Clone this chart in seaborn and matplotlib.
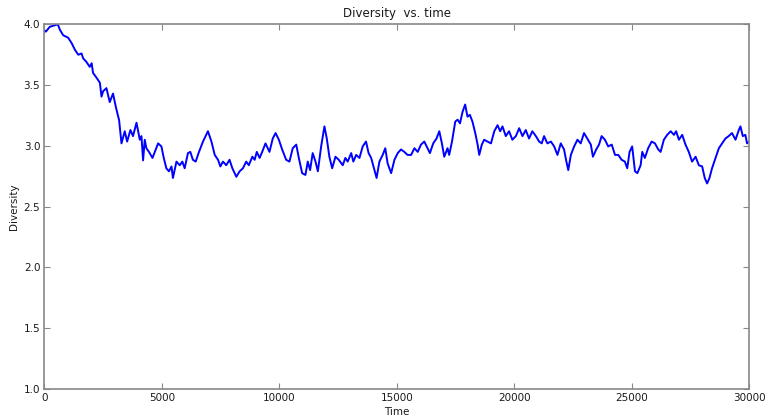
import matplotlib
matplotlib.use("Agg")
import matplotlib.pyplot as plt
import seaborn as sns

# values
time = [0, 60, 230, 570, 660, 800, 1010, 1160, 1300, 1440, 1580, 1650, 1790, 1930,
        2010, 2070, 2220, 2360, 2430, 2500, 2640, 2780, 2920, 3040, 3180, 3280,
        3420, 3520, 3660, 3770, 3920, 4060, 4130, 4200, 4270, 4340, 4450, 4600,
        4740, 4840, 4980, 5080, 5190, 5300, 5410, 5470, 5620, 5760, 5870, 5970,
        6110, 6210, 6320, 6440, 6580, 6750, 6960, 7110, 7250, 7390, 7490, 7600,
        7740, 7880, 8000, 8170, 8310, 8450, 8590, 8700, 8850, 8950, 9040, 9160,
        9270, 9410, 9580, 9720, 9840, 9980, 10120, 10290, 10430, 10570, 10720,
        10830, 10970, 11110, 11210, 11310, 11420, 11540, 11640, 11780, 11920,
        12020, 12130, 12250, 12390, 12530, 12700, 12810, 12910, 13060, 13150,
        13270, 13410, 13550, 13690, 13800, 13910, 14050, 14140, 14260, 14400,
        14510, 14610, 14760, 14900, 15040, 15180, 15320, 15460, 15610, 15750,
        15890, 16030, 16170, 16270, 16410, 16550, 16690, 16810, 16920, 17020,
        17160, 17230, 17350, 17490, 17590, 17690, 17800, 17910, 18010, 18110,
        18220, 18340, 18440, 18510, 18620, 18720, 18860, 19010, 19150, 19290,
        19400, 19500, 19640, 19780, 19920, 20070, 20210, 20350, 20490, 20630,
        20770, 20920, 21060, 21170, 21270, 21410, 21560, 21700, 21840, 21980,
        22120, 22220, 22300, 22410, 22550, 22690, 22830, 22970, 23110, 23260,
        23350, 23490, 23610, 23720, 23860, 24000, 24150, 24290, 24430, 24570,
        24710, 24810, 24910, 25020, 25140, 25240, 25380, 25450, 25560, 25700,
        25850, 25990, 26130, 26230, 26370, 26510, 26660, 26800, 26890, 27010,
        27150, 27290, 27430, 27570, 27720, 27860, 28000, 28110, 28210, 28310,
        28420, 28570, 28710, 28850, 28990, 29130, 29270, 29420, 29560, 29630,
        29730, 29840, 29910, 30000]
diversity = [3.95, 3.94, 3.98, 4.00, 3.955, 3.91, 3.89, 3.845, 3.79, 3.75, 3.76,
             3.72, 3.69, 3.65, 3.68, 3.60, 3.56, 3.52, 3.405, 3.45, 3.475, 3.36,
             3.43, 3.32, 3.21, 3.02, 3.12, 3.035, 3.13, 3.08, 3.19, 3.05, 3.08,
             2.88, 3.05, 2.98, 2.95, 2.90, 2.97, 3.02, 2.995, 2.90, 2.815, 2.79,
             2.83, 2.735, 2.87, 2.84, 2.87, 2.815, 2.94, 2.95, 2.885, 2.87, 2.95,
             3.035, 3.12, 3.035, 2.925, 2.885, 2.83, 2.87, 2.84, 2.885, 2.815,
             2.745, 2.79, 2.815, 2.87, 2.84, 2.91, 2.885, 2.95, 2.90, 2.95, 3.02,
             2.95, 3.06, 3.105, 3.05, 2.97, 2.885, 2.87, 2.98, 3.01, 2.90, 2.775,
             2.76, 2.87, 2.80, 2.94, 2.87, 2.79, 2.995, 3.16, 3.06, 2.91, 2.815,
             2.91, 2.885, 2.84, 2.90, 2.87, 2.94, 2.87, 2.925, 2.90, 2.995, 3.035,
             2.94, 2.90, 2.80, 2.735, 2.87, 2.925, 2.98, 2.855, 2.775, 2.885, 2.94,
             2.97, 2.95, 2.925, 2.925, 2.98, 2.95, 3.01, 3.035, 2.995, 2.94, 3.02,
             3.06, 3.12, 3.02, 2.91, 2.98, 2.925, 3.035, 3.20, 3.215, 3.185, 3.28,
             3.34, 3.24, 3.255, 3.20, 3.105, 3.01, 2.925, 3.01, 3.05, 3.035, 3.02,
             3.12, 3.17, 3.12, 3.16, 3.08, 3.12, 3.05, 3.08, 3.145, 3.08, 3.13,
             3.06, 3.12, 3.08, 3.035, 3.02, 3.08, 3.02, 3.035, 2.995, 2.925, 3.02,
             2.97, 2.87, 2.80, 2.925, 2.995, 3.05, 3.02, 3.105, 3.06, 3.01, 2.91,
             2.97, 3.01, 3.08, 3.05, 2.995, 3.01, 2.925, 2.925, 2.885, 2.87, 2.815,
             2.95, 2.995, 2.79, 2.775, 2.84, 2.95, 2.90, 2.98, 3.035, 3.02, 2.97,
             2.95, 3.05, 3.09, 3.12, 3.09, 3.12, 3.05, 3.09, 3.01, 2.95, 2.87,
             2.91, 2.84, 2.83, 2.735, 2.69, 2.735, 2.815, 2.90, 2.98, 3.02, 3.06,
             3.08, 3.105, 3.05, 3.13, 3.16, 3.08, 3.09, 3.02, 3.035]

x_ticks = [0, 5000, 10000, 15000, 20000, 25000, 30000]
y_ticks = [1.0, 1.5, 2.0, 2.5, 3.0, 3.5, 4.0]

sns.set_style("white")
plt.rcParams['font.family'] = ['DejaVu Sans']

fig = plt.figure(figsize=(7.66, 4.2), dpi=100)
ax = fig.add_axes([0.058, 0.0745, 0.92, 0.8675])

sns.lineplot(x=time, y=diversity, ax=ax, color="#0000ff", linewidth=1.4)

ax.set_xlim(0, 30000)
ax.set_ylim(1.0, 4.0)
ax.set_xticks(x_ticks)
ax.set_yticks(y_ticks)
ax.set_yticklabels([f"{v:.1f}" for v in y_ticks])
ax.tick_params(direction="in", length=4, width=0.8, colors="#888888",
               labelcolor="#1a1a1a", labelsize=7.5, top=True, right=True,
               bottom=True, left=True, pad=3)
for s in ax.spines.values():
    s.set_color("#888888")
    s.set_linewidth(1.2)

ax.set_title("Diversity  vs. time", fontsize=8.5, color="#1a1a1a", pad=5)
ax.set_xlabel("Time", fontsize=7.5, color="#1a1a1a", labelpad=3)
ax.set_ylabel("Diversity", fontsize=7.5, color="#1a1a1a", labelpad=3)

fig.savefig("out.png", dpi=100)
